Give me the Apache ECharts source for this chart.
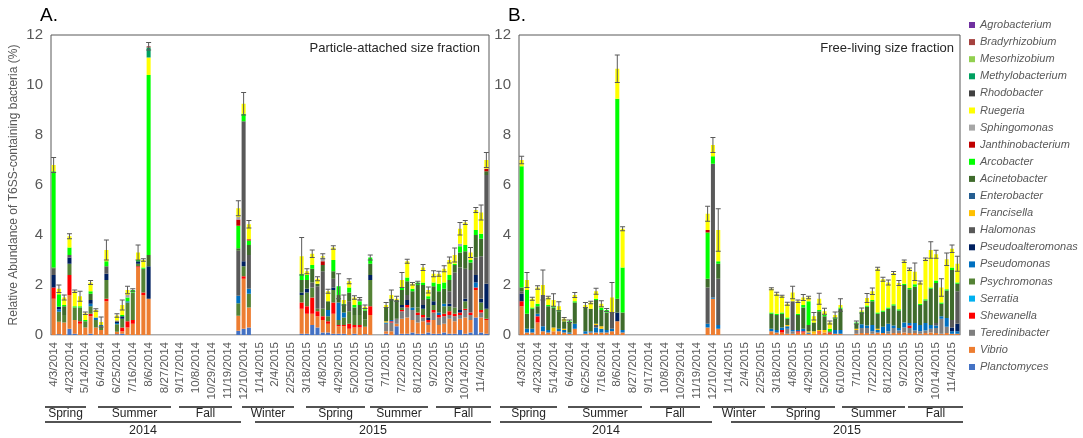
<!DOCTYPE html>
<html>
<head>
<meta charset="utf-8">
<script src="https://cdn.jsdelivr.net/npm/echarts@6.0.0/dist/echarts.min.js"></script>
<style>
  html, body { margin: 0; padding: 0; background: #fff; }
  #chart { width: 1083px; height: 438px; }
</style>
</head>
<body>
<div id="chart"></div>
<script>
// weekly sampling dates on the category axis (a label on every 3rd one)
const dates = [
  '4/3/2014', '4/9/2014', '4/16/2014', '4/23/2014', '4/30/2014', '5/7/2014', '5/14/2014', '5/21/2014', '5/28/2014',
  '6/4/2014', '6/11/2014', '6/18/2014', '6/25/2014', '7/2/2014', '7/9/2014', '7/16/2014', '7/23/2014', '7/30/2014',
  '8/6/2014', '8/13/2014', '8/20/2014', '8/27/2014', '9/3/2014', '9/10/2014', '9/17/2014', '9/24/2014', '10/1/2014',
  '10/8/2014', '10/15/2014', '10/22/2014', '10/29/2014', '11/5/2014', '11/12/2014', '11/19/2014', '11/26/2014', '12/3/2014',
  '12/10/2014', '12/17/2014', '1/7/2015', '1/14/2015', '1/21/2015', '1/28/2015', '2/4/2015', '2/11/2015', '2/18/2015',
  '2/25/2015', '3/4/2015', '3/11/2015', '3/18/2015', '3/25/2015', '4/1/2015', '4/8/2015', '4/15/2015', '4/22/2015',
  '4/29/2015', '5/6/2015', '5/13/2015', '5/20/2015', '5/27/2015', '6/3/2015', '6/10/2015', '6/17/2015', '6/24/2015',
  '7/1/2015', '7/8/2015', '7/15/2015', '7/22/2015', '7/29/2015', '8/5/2015', '8/12/2015', '8/19/2015', '8/26/2015',
  '9/2/2015', '9/9/2015', '9/16/2015', '9/23/2015', '9/30/2015', '10/7/2015', '10/14/2015', '10/21/2015', '10/28/2015',
  '11/4/2015', '11/11/2015'
];

// dates that were sampled (groups: spring 14 | summer 14 | winter | spring 15 | summer-fall 15)
const sampledA = [
  '4/3/2014', '4/9/2014', '4/16/2014', '4/23/2014', '4/30/2014', '5/7/2014', '5/14/2014', '5/21/2014', '5/28/2014', '6/4/2014', '6/11/2014',
  '6/25/2014', '7/2/2014', '7/9/2014', '7/16/2014', '7/23/2014', '7/30/2014', '8/6/2014',
  '12/3/2014', '12/10/2014', '12/17/2014',
  '3/11/2015', '3/18/2015', '3/25/2015', '4/1/2015', '4/8/2015', '4/15/2015', '4/22/2015', '4/29/2015', '5/6/2015', '5/13/2015', '5/20/2015', '5/27/2015', '6/3/2015', '6/10/2015',
  '7/1/2015', '7/8/2015', '7/15/2015', '7/22/2015', '7/29/2015', '8/5/2015', '8/12/2015', '8/19/2015', '8/26/2015', '9/2/2015',
  '9/9/2015', '9/16/2015', '9/23/2015', '9/30/2015', '10/7/2015', '10/14/2015', '10/21/2015', '10/28/2015', '11/4/2015', '11/11/2015'
];
const sampledB = [
  '4/3/2014', '4/9/2014', '4/16/2014', '4/23/2014', '4/30/2014', '5/7/2014', '5/14/2014', '5/21/2014', '5/28/2014', '6/4/2014', '6/11/2014',
  '6/25/2014', '7/2/2014', '7/9/2014', '7/16/2014', '7/23/2014', '7/30/2014', '8/6/2014', '8/13/2014',
  '12/3/2014', '12/10/2014', '12/17/2014',
  '3/11/2015', '3/18/2015', '3/25/2015', '4/1/2015', '4/8/2015', '4/15/2015', '4/22/2015', '4/29/2015', '5/6/2015', '5/13/2015', '5/20/2015', '5/27/2015', '6/3/2015', '6/10/2015',
  '7/1/2015', '7/8/2015', '7/15/2015', '7/22/2015', '7/29/2015', '8/5/2015', '8/12/2015', '8/19/2015', '8/26/2015', '9/2/2015',
  '9/9/2015', '9/16/2015', '9/23/2015', '9/30/2015', '10/7/2015', '10/14/2015', '10/21/2015', '10/28/2015', '11/4/2015', '11/11/2015'
];

// taxa, bottom of the stack first
const taxa = [
  'Planctomyces', 'Vibrio', 'Teredinibacter', 'Shewanella', 'Serratia', 'Psychromonas', 'Pseudomonas',
  'Pseudoalteromonas', 'Halomonas', 'Francisella', 'Enterobacter', 'Acinetobacter', 'Arcobacter',
  'Janthinobacterium', 'Sphingomonas', 'Ruegeria', 'Rhodobacter', 'Methylobacterium', 'Mesorhizobium',
  'Bradyrhizobium', 'Agrobacterium'
];
const taxaColors = [
  '#4472C4', '#ED7D31', '#7F7F7F', '#FF0000', '#00B0F0', '#548235', '#0070C0',
  '#002060', '#595959', '#FFC000', '#255E91', '#3F6B2C', '#00FF00',
  '#C00000', '#A6A6A6', '#FFFF00', '#404040', '#00A060', '#92D050',
  '#A5423F', '#7030A0'
];

// ---- A. particle-attached, % per sampled date ----
const planctomycesA = [
  0, .03, 0, .25, .05, 0, 0, .05, 0, 0, 0,
  .03, .05, 0, 0, 0, 0, 0,
  .17, .25, .3,
  .05, .05, .4, .3, .1, .1, .05, .05, .05, 0, .05, 0, .03, 0,
  .05, 0, .35, .05, .05, .1, .05, .05, .1, .05, .05, .1, .05, .05, .2, .05, .1, .7, .1, .05
];
const vibrioA = [
  1.45, .5, .5, 1.35, .55, .45, .3, .7, .3, .2, 1.35,
  .1, .1, .3, .45, 2.7, 1.6, 1.45,
  .6, 2.0, .8,
  1.0, .8, .45, .45, .5, .35, .8, .3, .3, .25, .25, .3, .3, .8,
  .1, .15, .1, .6, .65, .5, .45, .5, .3, .55, .35, .35, .6, .5, .45, .65, .5, 1.1, .6, .55
];
const teredinibacterA = [
  0, 0, 0, 0, 0, 0, 0, 0, 0, 0, 0,
  0, 0, 0, 0, 0, 0, 0,
  0, 0, 0,
  0, 0, 0, 0, 0, 0, 0, 0, 0, 0, 0, 0, 0, 0,
  .3, .35, .2, .3, .4, .4, .3, .15, .1, .3, .3, .3, .15, .2, .15, .3, .2, 0, .2, 0
];
const shewanellaA = [
  .45, 0, 0, .8, 0, .1, 0, .1, 0, 0, .1,
  0, .15, .25, .15, .05, .1, 0,
  0, .1, 0,
  .25, .3, .65, .2, .15, .1, .45, .05, .05, .2, .1, .1, 0, .35,
  0, .05, 0, .05, .1, 0, .1, .1, .1, .1, .1, .1, .15, .1, .1, .05, .1, .1, .1, .05
];
const serratiaA = [];
const psychromonasA = [
  0, .4, .3, .45, .5, .55, .25, .3, .3, .15, .75,
  .3, .35, .75, 1.1, .1, .95, 0,
  .5, .4, .55,
  .3, .55, .4, .1, .3, .2, .5, .2, .3, .5, .4, .4, .3, 1.05,
  0, 0, 0, .1, 0, 0, .2, .25, 0, .2, 0, .3, .2, .25, 0, .3, 0, 0, .3, .4
];
const pseudomonasA = [
  0, .1, 0, 0, 0, 0, 0, .1, .1, .05, 0,
  .05, 0, .05, 0, 0, 0, 0,
  .3, 0, .2,
  0, 0, 0, 0, 0, .25, 0, .7, .2, 0, 0, 0, 0, 0,
  .05, .05, 0, 0, 0, .1, 0, 0, 0, 0, .1, .1, 0, 0, 0, 0, 0, .2, 0, 0
];
const pseudoalteromonasA = [
  .5, .1, 0, .25, 0, 0, 0, .15, 0, 0, .25,
  .05, .1, 0, 0, .1, 0, 1.3,
  0, .2, 0,
  .1, .15, 0, 0, 0, 0, .1, 0, 0, 0, 0, 0, 0, .2,
  0, 0, 0, .1, .2, 0, 0, .15, .1, .15, 0, 0, .1, 0, .1, .1, 0, .3, .15, 1.0
];
const halomonasA = [
  .25, 0, 0, .1, 0, 0, 0, 0, 0, 0, .3,
  .05, 0, 0, 0, 0, 0, 0,
  1.8, 5.6, 1.35,
  0, 0, .2, .9, 1.5, 0, .35, 0, 0, .4, 0, 0, 0, 0,
  0, 0, 0, 0, .2, 0, 0, .2, 0, 0, 0, 0, .5, 1.4, 1.7, 1.2, 1.7, .7, 1.7, 4.35
];
const francisellaA = [
  0, 0, 0, 0, 0, 0, 0, 0, 0, 0, 0,
  0, 0, 0, 0, 0, 0, 0,
  0, 0, 0,
  0, 0, 0, 0, 0, 0, 0, 0, 0, 0, 0, 0, 0, 0,
  .05, 0, 0, 0, 0, 0, 0, 0, 0, 0, 0, 0, 0, 0, 0, 0, 0, 0, 0, 0
];
const enterobacterA = [];
const acinetobacterA = [
  .05, 0, .35, 0, 0, 0, 0, .25, 0, 0, 0,
  0, 0, 0, 0, 0, 0, .45,
  .1, 0, .4,
  .5, .35, .55, .1, .25, .35, .3, .3, .3, .35, .3, .4, .35, .45,
  .55, .85, .75, .6, .55, .65, .9, .6, .75, .6, .85, .6, .45, .3, .6, .7, .3, .9, .7, .15
];
const arcobacterA = [
  3.85, .5, .05, .3, .05, .05, .05, .1, 0, 0, .2,
  0, .05, .15, .1, .05, .05, 7.2,
  .9, .3, .18,
  .25, .2, .15, 0, 0, 0, .45, .35, .05, .2, .1, .15, .05, .25,
  0, 0, 0, .1, .15, .1, .1, .1, .1, .15, .3, .25, .2, .05, .25, .25, .1, .2, .2, 0
];
const janthinobacteriumA = [
  0, 0, 0, 0, 0, 0, 0, 0, 0, 0, 0,
  0, 0, 0, 0, 0, 0, 0,
  .25, 0, .05,
  0, 0, 0, 0, .15, 0, 0, 0, 0, 0, 0, 0, 0, 0,
  0, 0, 0, 0, 0, 0, 0, 0, 0, 0, 0, 0, 0, 0, 0, 0, 0, 0, 0, .1
];
const sphingomonasA = [
  0, 0, 0, 0, 0, 0, 0, 0, 0, 0, 0,
  0, 0, .1, 0, 0, 0, 0,
  .1, 0, 0,
  0, 0, 0, 0, .15, 0, 0, 0, 0, 0, 0, .1, 0, 0,
  0, 0, 0, 0, 0, 0, 0, 0, 0, 0, 0, 0, 0, 0, .1, 0, 0, 0, 0, 0
];
const ruegeriaA = [
  .25, .22, .3, .45, .6, .4, .27, .35, .3, .12, .45,
  .2, .4, .2, 0, .3, .3, .7,
  .35, .4, .6,
  .7, .15, .45, .2, .05, .4, .5, 0, .15, .25, .3, 0, .1, 0,
  .1, .15, .05, .3, .65, .2, 0, .6, .25, .35, .4, .55, .6, .35, .6, .9, .3, .8, .85, .35
];
const rhodobacterA = [];
const methylobacteriumA = [
  0, 0, 0, 0, 0, 0, 0, 0, 0, 0, 0,
  0, 0, 0, 0, 0, 0, .4
];
const mesorhizobiumA = [];
const bradyrhizobiumA = [
  0, 0, 0, 0, 0, 0, 0, 0, 0, 0, 0,
  0, 0, 0, 0, 0, 0, .05
];
const agrobacteriumA = [];
const errA = [
  .3, .15, .1, .1, .05, .2, .05, .08, .05, .2, .4,
  .07, .2, .15, .05, .3, .05, .15,
  .3, .45, .15,
  .75, .1, .15, .08, .1, .08, .07, .5, .2, .1, .07, .05, .07, .1,
  .1, .2, .1, .3, .08, .05, .05, .12, .12, .12, .1, .12, .12, .28, .25, .08, .2, .1, .3, .3
];

// ---- B. free-living, % per sampled date ----
const planctomycesB = [];
const vibrioB = [
  1.15, .1, .1, .5, .15, .1, .15, .15, .1, .05, .25,
  .05, .1, .1, .1, .1, .15, .55, .1,
  .3, 1.45, .25,
  .15, .1, .1, .05, .05, .1, .1, .05, .05, .1, .1, .05, .05, .05,
  .05, .08, .08, .05, .1, .08, .05, .08, .08, .1, .08, .08, .05, .08, .1, .08, .05, .08, .05, .05
];
const teredinibacterB = [
  0, 0, 0, 0, 0, 0, 0, 0, 0, 0, 0,
  0, 0, 0, 0, 0, 0, 0, 0,
  0, 0, 0,
  0, 0, 0, .2, .1, 0, 0, 0, 0, 0, 0, 0, 0, 0,
  .15, .2, .2, .1, 0, 0, .1, .2, .1, .2, .2, .1, .1, .1, .15, .2, .6, .25, 0, 0
];
const shewanellaB = [
  .2, 0, 0, .25, 0, 0, 0, 0, 0, 0, 0,
  0, 0, 0, 0, 0, 0, 0, 0,
  0, 0, 0,
  0, 0, .1, 0, 0, .05, .05, 0, 0, .05, 0, .05, 0, 0,
  0, 0, 0, 0, 0, 0, 0, 0, 0, 0, .1, 0, 0, 0, 0, 0, 0, 0, 0, 0
];
const serratiaB = [];
const psychromonasB = [];
const pseudomonasB = [
  0, .15, .15, .1, .2, .1, 0, .1, .1, .05, .2,
  .1, .05, .2, .15, .1, .1, 0, .1,
  .15, .05, .15,
  .1, .1, .1, .1, .05, .05, .1, .05, 0, 0, 0, 0, .15, .15,
  0, .15, .1, .25, .1, .25, .3, .1, .1, .2, .1, .3, .25, .3, .15, .1, .1, .35, .1, .1
];
const pseudoalteromonasB = [
  .3, 0, 0, 0, 0, 0, 0, 0, 0, 0, 0,
  0, 0, 0, 0, 0, 0, .35, 0,
  0, 0, 0,
  0, 0, 0, 0, 0, 0, 0, 0, 0, 0, 0, 0, 0, 0,
  0, 0, 0, 0, 0, 0, 0, 0, 0, 0, 0, 0, 0, 0, 0, 0, 0, 0, .15, .3
];
const halomonasB = [
  .1, 0, 0, 0, 1.25, 0, 0, 0, 0, 0, 0,
  0, 0, .1, 0, 0, .65, 0, 0,
  1.45, 5.35, 1.85,
  0, 0, 0, 0, 1.15, 0, 0, 0, 0, 0, 0, 0, 0, 0,
  0, 0, 0, 0, 0, 0, 0, 0, 0, 0, 0, 0, 0, 0, 0, .1, 0, 0, .3, 1.3
];
const francisellaB = [
  0, 0, 0, 0, 0, 0, .15, 0, .05, 0, 0,
  0, 0, .05, .1, 0, 0, 0, 0,
  0, 0, 0,
  0, 0, 0, .05, 0, 0, 0, .05, .1, .05, .1, 0, 0, 0,
  .05, 0, 0, 0, .05, 0, 0, 0, 0, 0, 0, 0, 0, 0, 0, 0, 0, 0, 0, 0
];
const enterobacterB = [];
const acinetobacterB = [
  .15, .6, .8, .3, 0, .95, .8, .7, .3, .4, .85,
  .95, .9, .95, .65, .7, 0, .55, .7,
  .35, 0, .6,
  .6, .6, .55, .25, 0, .6, .85, .25, .35, .75, .55, .05, .45, .85,
  .2, .45, .75, .95, .6, .6, .6, .8, .7, 1.5, 1.35, 1.45, .8, .9, 1.45, 1.6, .5, 1.1, 2.0, .3
];
const arcobacterB = [
  4.85, .95, .05, .1, 0, .05, .05, .05, 0, .05, .05,
  0, 0, .05, .1, .1, 0, 8.0, 1.8,
  1.85, .3, .1,
  .05, .05, .05, .05, 0, .05, .1, .95, 0, .05, .05, .1, .05, .05,
  .05, .05, .05, .05, .05, .05, .05, .05, .05, .05, .05, .1, .05, .05, .05, .1, .05, .05, .1, .05
];
const janthinobacteriumB = [
  0, 0, 0, 0, 0, 0, 0, 0, 0, 0, 0,
  0, 0, 0, 0, 0, 0, 0, 0,
  .1, 0, 0
];
const sphingomonasB = [];
const ruegeriaB = [
  .25, .4, .35, .65, .4, .3, .25, .15, .1, 0, .25,
  .1, .25, .3, .15, 0, .6, 1.2, 1.55,
  .65, .45, 1.25,
  .95, .8, .65, .55, .35, .5, .3, .15, .25, .45, .15, .25, .1, .1,
  0, .05, .3, .35, 1.75, 1.25, 1.0, 1.25, 1.05, .9, .75, .5, .85, 1.6, 1.5, 1.05, .6, 1.2, .75, .75
];
const rhodobacterB = [];
const methylobacteriumB = [];
const mesorhizobiumB = [];
const bradyrhizobiumB = [];
const agrobacteriumB = [];
const errB = [
  .15, .3, .06, .07, .6, .05, .25, .18, .05, .05, .1,
  .1, .05, .12, .12, .06, .6, .55, .08,
  .3, .3, .85,
  .04, .06, .04, .06, .25, .05, .12, .05, .15, .22, .12, .06, .12, .25,
  .06, .1, .18, .13, .06, .08, .1, .06, .1, .05, .05, .35, .06, .05, .33, .16, .35, .25, .15, .3
];

// columns in the same order as taxa
const columnsA = [planctomycesA, vibrioA, teredinibacterA, shewanellaA, serratiaA, psychromonasA, pseudomonasA,
  pseudoalteromonasA, halomonasA, francisellaA, enterobacterA, acinetobacterA, arcobacterA,
  janthinobacteriumA, sphingomonasA, ruegeriaA, rhodobacterA, methylobacteriumA, mesorhizobiumA,
  bradyrhizobiumA, agrobacteriumA];
const columnsB = [planctomycesB, vibrioB, teredinibacterB, shewanellaB, serratiaB, psychromonasB, pseudomonasB,
  pseudoalteromonasB, halomonasB, francisellaB, enterobacterB, acinetobacterB, arcobacterB,
  janthinobacteriumB, sphingomonasB, ruegeriaB, rhodobacterB, methylobacteriumB, mesorhizobiumB,
  bradyrhizobiumB, agrobacteriumB];

// season / year brackets under the axis: [text, x1, x2]
const seasonsA = [['Spring', 45, 86], ['Summer', 98, 171], ['Fall', 179, 232], ['Winter', 242, 294],
  ['Spring', 306, 365], ['Summer', 370, 428], ['Fall', 436, 491]];
const yearsA = [['2014', 45, 241], ['2015', 255, 491]];
const seasonsB = [['Spring', 500, 557], ['Summer', 568, 642], ['Fall', 650, 700], ['Winter', 713, 765],
  ['Spring', 771, 835], ['Summer', 842, 905], ['Fall', 908, 963]];
const yearsB = [['2014', 500, 712], ['2015', 731, 963]];

// put the sampled values on the full date axis
function spread(sampled, vals) {
  const out = dates.map(() => 0);
  sampled.forEach((d, k) => { out[dates.indexOf(d)] = vals[k] || 0; });
  return out;
}
function errorData(sampled, columns, err) {
  return sampled.map((d, k) => {
    const total = columns.reduce((s, col) => s + (col[k] || 0), 0);
    return [dates.indexOf(d), +total.toFixed(3), err[k]];
  });
}

const FONT = '"Liberation Sans", Arial, sans-serif';
const NARROW = '"Liberation Sans Narrow", "Arial Narrow", "Liberation Sans", sans-serif';

function renderError(params, api) {
  const x = api.value(0), y = api.value(1), e = api.value(2);
  const hi = api.coord([x, y + e]);
  const lo = api.coord([x, y - e]);
  const w = 2.5;
  const st = { stroke: '#595959', lineWidth: 1 };
  return {
    type: 'group',
    children: [
      { type: 'line', shape: { x1: hi[0], y1: hi[1], x2: lo[0], y2: lo[1] }, style: st },
      { type: 'line', shape: { x1: hi[0] - w, y1: hi[1], x2: hi[0] + w, y2: hi[1] }, style: st },
      { type: 'line', shape: { x1: lo[0] - w, y1: lo[1], x2: lo[0] + w, y2: lo[1] }, style: st }
    ]
  };
}

const series = [];
[[sampledA, columnsA, 0], [sampledB, columnsB, 1]].forEach(([sampled, columns, g]) => {
  taxa.forEach((name, t) => {
    series.push({
      name: name,
      type: 'bar',
      stack: 'panel' + g,
      xAxisIndex: g,
      yAxisIndex: g,
      barCategoryGap: '24%',
      itemStyle: { color: taxaColors[t] },
      emphasis: { disabled: true },
      data: spread(sampled, columns[t])
    });
  });
  series.push({
    name: 'error' + g,
    type: 'custom',
    xAxisIndex: g,
    yAxisIndex: g,
    z: 5,
    renderItem: renderError,
    data: errorData(sampled, columns, g === 0 ? errA : errB)
  });
});

function xAxis(g) {
  return {
    type: 'category',
    gridIndex: g,
    data: dates,
    axisLine: { lineStyle: { color: '#D9D9D9', width: 1 } },
    axisTick: { show: false },
    axisLabel: { rotate: 90, interval: 2, fontSize: 11.5, color: '#595959', margin: 7, fontFamily: FONT }
  };
}
function yAxis(g) {
  return {
    type: 'value',
    gridIndex: g,
    min: 0,
    max: 12,
    interval: 2,
    splitLine: { show: false },
    axisLine: { show: false },
    axisLabel: { fontSize: 15, color: '#595959', margin: 8, fontFamily: NARROW }
  };
}

const graphic = [
  { type: 'text', left: 40, top: 6, style: { text: 'A.', font: '19px ' + FONT, fill: '#000' } },
  { type: 'text', left: 508, top: 6, style: { text: 'B.', font: '19px ' + FONT, fill: '#000' } },
  { type: 'text', x: 480, y: 48, style: { text: 'Particle-attached size fraction', font: '13px ' + FONT, fill: '#262626',
    align: 'right', textAlign: 'right', verticalAlign: 'middle', textVerticalAlign: 'middle' } },
  { type: 'text', x: 954, y: 48, style: { text: 'Free-living size fraction', font: '13px ' + FONT, fill: '#262626',
    align: 'right', textAlign: 'right', verticalAlign: 'middle', textVerticalAlign: 'middle' } }
];
function bracket(list, lineY, textY, size) {
  list.forEach(([label, x1, x2]) => {
    graphic.push({ type: 'line', shape: { x1: x1, y1: lineY, x2: x2, y2: lineY }, style: { stroke: '#1a1a1a', lineWidth: 1.6 } });
    graphic.push({ type: 'text', x: (x1 + x2) / 2, y: textY, style: { text: label, font: size + 'px ' + NARROW, fill: '#262626',
      align: 'center', textAlign: 'center', verticalAlign: 'middle', textVerticalAlign: 'middle' } });
  });
}
bracket(seasonsA, 407, 414, 12);
bracket(seasonsB, 407, 414, 12);
bracket(yearsA, 422, 431, 12.5);
bracket(yearsB, 422, 431, 12.5);

const chart = echarts.init(document.getElementById('chart'));
chart.setOption({
  animation: false,
  textStyle: { fontFamily: FONT },
  grid: [
    { left: 51, top: 35, width: 438, height: 300, show: true, borderColor: '#595959', borderWidth: 1 },
    { left: 519, top: 35, width: 441, height: 300, show: true, borderColor: '#595959', borderWidth: 1 }
  ],
  xAxis: [xAxis(0), xAxis(1)],
  yAxis: [
    Object.assign(yAxis(0), {
      name: 'Relative Abundance of T6SS-containing bacteria (%)',
      nameLocation: 'middle',
      nameGap: 31,
      nameTextStyle: { fontSize: 12, color: '#595959', fontFamily: FONT }
    }),
    yAxis(1)
  ],
  legend: {
    orient: 'vertical',
    left: 969,
    top: 18,
    padding: 0,
    itemWidth: 6,
    itemHeight: 6,
    itemGap: 3.1,
    icon: 'rect',
    selectedMode: false,
    data: taxa.slice().reverse(),
    textStyle: { fontStyle: 'italic', fontSize: 11, color: '#595959', lineHeight: 14, fontFamily: FONT }
  },
  graphic: graphic,
  series: series
});
</script>
</body>
</html>
